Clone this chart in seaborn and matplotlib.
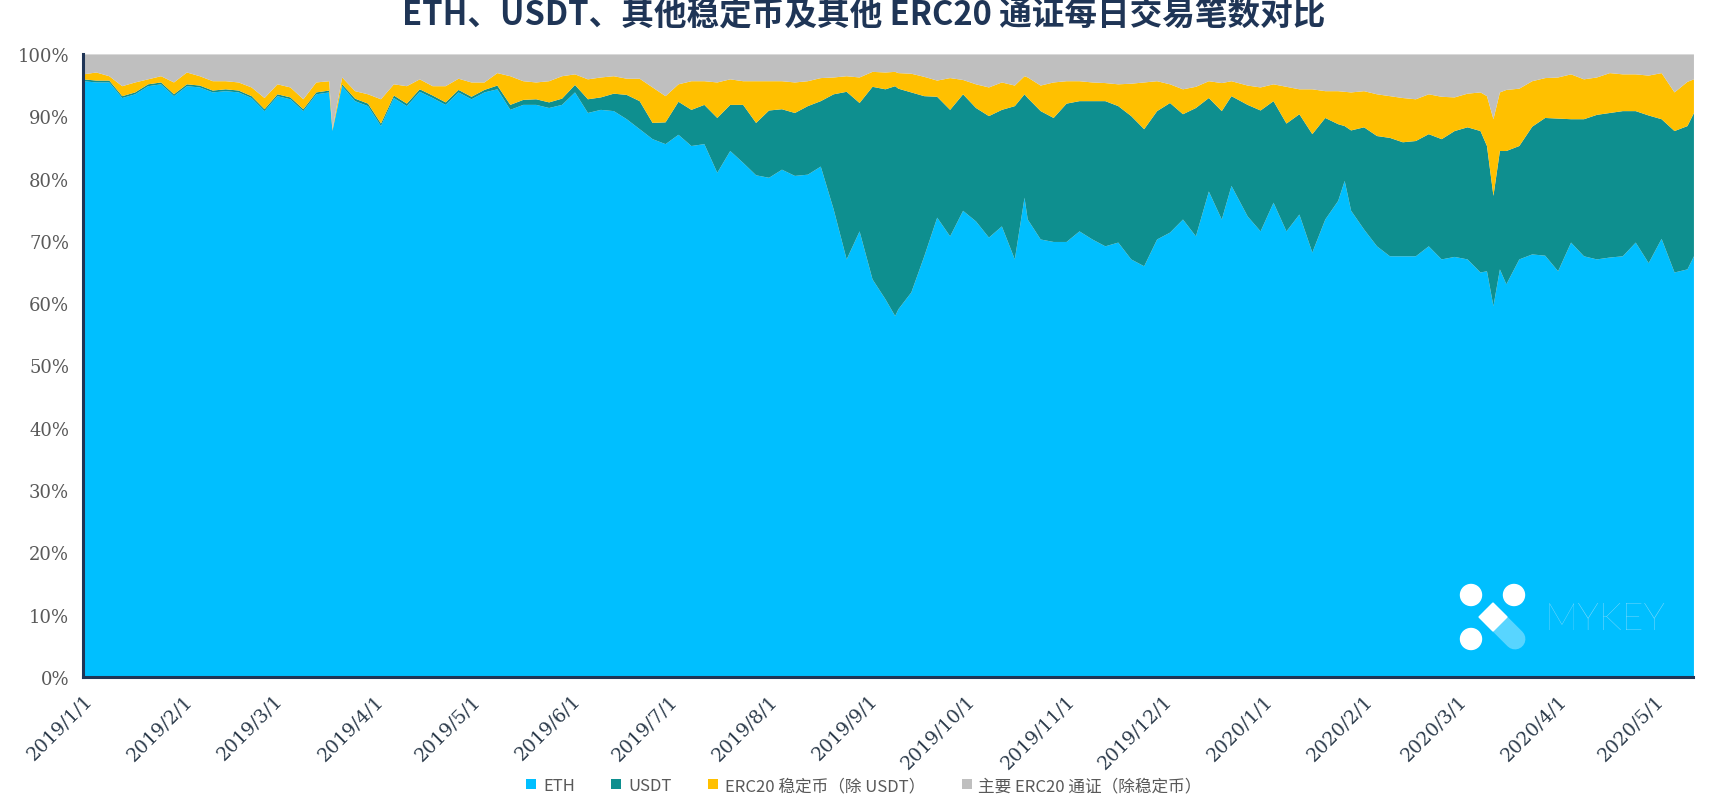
import datetime as dt

import matplotlib.dates as mdates
import matplotlib.pyplot as plt
import matplotlib.ticker as mticker
import numpy as np
import seaborn as sns
from matplotlib.patches import Circle, Patch, Polygon

sns.set_style("white")
plt.rcParams["font.family"] = ["Noto Sans CJK SC", "DejaVu Sans"]

# day offsets from 2019/1/1
days = [0, 4, 8, 12, 16, 20, 24, 28, 32, 36,
        40, 44, 48, 52, 56, 60, 64, 68, 72, 76,
        77, 80, 84, 88, 92, 96, 100, 104, 108, 112,
        116, 120, 124, 128, 132, 136, 140, 144, 148, 152,
        156, 160, 164, 168, 172, 176, 180, 184, 188, 192,
        196, 200, 204, 208, 212, 216, 220, 224, 228, 232,
        236, 240, 244, 248, 251, 252, 256, 260, 264, 268,
        272, 276, 280, 284, 288, 291, 292, 296, 300, 304,
        308, 312, 316, 320, 324, 328, 332, 336, 340, 344,
        348, 352, 355, 360, 364, 368, 372, 376, 380, 384,
        388, 390, 392, 396, 400, 404, 408, 412, 416, 420,
        424, 428, 432, 434, 436, 438, 440, 444, 448, 452,
        456, 460, 464, 468, 472, 476, 480, 484, 488, 492,
        496, 498]

eth = [95.7, 95.5, 95.5, 93.0, 93.6, 94.9, 95.2, 93.3, 94.9, 94.7,
       93.9, 94.1, 93.9, 93.0, 90.9, 93.3, 92.8, 90.9, 93.6, 93.9,
       87.7, 94.9, 92.5, 91.7, 88.5, 93.0, 91.7, 94.0, 93.0, 91.9,
       93.9, 92.8, 93.9, 94.4, 91.1, 91.9, 91.9, 91.4, 91.9, 93.9,
       90.6, 91.1, 90.9, 89.6, 88.0, 86.4, 85.6, 87.1, 85.3, 85.6,
       81.0, 84.5, 82.6, 80.6, 80.2, 81.5, 80.5, 80.7, 82.0, 75.1,
       67.1, 71.6, 63.9, 60.7, 58.0, 59.1, 61.8, 67.6, 73.8, 70.8,
       74.9, 73.2, 70.6, 72.4, 67.1, 77.0, 73.5, 70.3, 69.9, 69.9,
       71.6, 70.3, 69.2, 69.8, 67.1, 66.0, 70.3, 71.4, 73.5, 70.8,
       78.0, 73.5, 78.9, 74.0, 71.6, 76.2, 71.6, 74.3, 68.2, 73.5,
       76.5, 79.7, 74.9, 71.9, 69.2, 67.6, 67.6, 67.6, 69.2, 67.1,
       67.5, 67.1, 65.0, 65.2, 59.6, 65.5, 63.1, 67.1, 67.9, 67.7,
       65.2, 69.8, 67.6, 67.1, 67.4, 67.6, 69.8, 66.5, 70.4, 65.0,
       65.5, 67.6]

usdt = [0.3] * 20 + [
        0.1, 0.3, 0.4, 0.4, 0.4, 0.4, 0.4, 0.4, 0.4, 0.4,
        0.4, 0.4, 0.4, 0.6, 0.8, 0.8, 0.9, 0.9, 1.0, 1.2,
        2.2, 2.0, 2.8, 3.9, 4.5, 2.6, 3.5, 5.3, 5.8, 6.3,
        8.8, 7.4, 9.3, 8.4, 10.8, 9.7, 10.1, 11.0, 10.5, 18.5,
        26.9, 20.6, 30.9, 33.7, 36.9, 35.4, 32.1, 25.7, 19.4, 20.3,
        18.7, 18.2, 19.5, 18.7, 24.6, 16.6, 19.5, 20.6, 19.9, 22.2,
        20.9, 22.2, 23.3, 21.9, 23.0, 22.0, 20.6, 20.8, 16.9, 20.6,
        15.0, 17.4, 14.4, 17.9, 19.4, 16.3, 17.3, 16.1, 19.0, 16.3,
        12.3, 8.8, 12.9, 16.4, 17.7, 19.0, 18.3, 18.5, 18.0, 19.3,
        20.2, 21.2, 22.7, 20.1, 17.7, 19.0, 21.4, 18.2, 20.5, 22.1,
        24.5, 19.8, 22.0, 23.2, 23.2, 23.3, 21.1, 23.7, 19.2, 22.7,
        23.0, 23.0]

stable = [0.8, 1.3, 0.7, 1.6, 1.6, 0.8, 1.0, 1.9, 1.9, 1.5,
          1.5, 1.3, 1.3, 1.4, 1.8, 1.6, 1.6, 1.6, 1.6, 1.5,
          0.2, 1.1, 1.2, 1.5, 3.9, 1.8, 2.8, 1.6, 1.5, 2.6,
          1.8, 2.3, 1.2, 2.0, 4.6, 3.0, 2.7, 3.4, 3.6, 1.7,
          3.2, 3.2, 2.8, 2.6, 3.6, 5.7, 4.2, 2.8, 4.6, 3.8,
          5.7, 4.1, 3.8, 6.7, 4.7, 4.5, 4.9, 4.0, 3.7, 2.7,
          2.5, 4.1, 2.4, 2.7, 2.3, 2.5, 3.0, 3.1, 2.6, 5.1,
          2.3, 3.8, 4.6, 4.4, 3.3, 2.9, 3.3, 4.1, 5.7, 3.6,
          3.2, 3.0, 2.9, 3.5, 5.2, 7.5, 4.8, 3.0, 4.0, 3.4,
          2.7, 4.5, 2.4, 3.1, 3.7, 2.7, 5.9, 4.0, 7.2, 4.3,
          5.3, 5.5, 6.1, 5.8, 6.7, 6.7, 7.1, 6.7, 6.4, 6.8,
          5.4, 5.4, 6.2, 8.0, 12.3, 9.4, 9.8, 9.2, 7.3, 6.4,
          6.6, 7.2, 6.4, 6.0, 6.4, 5.9, 5.9, 6.4, 7.4, 6.2,
          7.1, 5.4]

other = [3.2, 2.9, 3.5, 5.1, 4.5, 4.0, 3.5, 4.5, 2.9, 3.5,
         4.3, 4.3, 4.5, 5.3, 7.0, 4.8, 5.3, 7.2, 4.5, 4.3,
         12.0, 3.7, 5.9, 6.4, 7.2, 4.8, 5.1, 4.0, 5.1, 5.1,
         3.9, 4.5, 4.5, 3.0, 3.5, 4.3, 4.5, 4.3, 3.5, 3.2,
         4.0, 3.7, 3.5, 3.9, 3.9, 5.3, 6.7, 4.8, 4.3, 4.3,
         4.5, 4.0, 4.3, 4.3, 4.3, 4.3, 4.5, 4.3, 3.8, 3.7,
         3.5, 3.7, 2.8, 2.9, 2.8, 3.0, 3.1, 3.6, 4.2, 3.8,
         4.1, 4.8, 5.3, 4.5, 5.0, 3.5, 3.7, 5.0, 4.5, 4.3,
         4.3, 4.5, 4.6, 4.8, 4.7, 4.5, 4.3, 4.8, 5.6, 5.2,
         4.3, 4.6, 4.3, 5.0, 5.3, 4.8, 5.2, 5.6, 5.6, 5.9,
         5.9, 6.0, 6.1, 5.9, 6.4, 6.7, 7.0, 7.2, 6.4, 6.8,
         6.9, 6.3, 6.1, 6.7, 10.4, 6.1, 5.7, 5.5, 4.3, 3.8,
         3.7, 3.2, 4.0, 3.7, 3.0, 3.2, 3.2, 3.4, 3.0, 6.1,
         4.4, 4.0]

labels = ["ETH", "USDT", "ERC20 稳定币（除 USDT）", "主要 ERC20 通证（除稳定币）"]
colors = ["#00BFFF", "#0E8F8F", "#FFC000", "#BFBFBF"]
title = "ETH、USDT、其他稳定币及其他 ERC20 通证每日交易笔数对比"

start = dt.date(2019, 1, 1)
dates = [start + dt.timedelta(days=d) for d in days]
shares = np.array([eth, usdt, stable, other])
shares = shares / shares.sum(axis=0)

navy = "#1F3556"
fig = plt.figure(figsize=(17.28, 8.04), dpi=100)
ax = fig.add_axes([0.048, 0.1567, 0.932, 0.775])
ax.stackplot(dates, shares, colors=colors, linewidth=0)

ax.set_xlim(dates[0], dates[-1])
ax.set_ylim(0, 1)
ax.yaxis.set_major_locator(mticker.MultipleLocator(0.1))
ax.yaxis.set_major_formatter(mticker.FuncFormatter(lambda v, p: f"{v * 100:.0f}%"))
ax.xaxis.set_major_locator(mdates.MonthLocator())
ax.xaxis.set_major_formatter(mticker.FuncFormatter(
    lambda v, p: "{0.year}/{0.month}/{0.day}".format(mdates.num2date(v))))

for s in ["top", "right"]:
    ax.spines[s].set_visible(False)
for s in ["left", "bottom"]:
    ax.spines[s].set_color(navy)
    ax.spines[s].set_linewidth(2.2)
    ax.spines[s].set_zorder(5)

ax.tick_params(axis="y", length=0, pad=10, labelsize=13, labelcolor="#595959")
ax.tick_params(axis="x", length=6, width=2, color=navy, direction="out",
               labelsize=13.5, labelcolor="#2B3A4A", pad=4)
for t in ax.get_yticklabels() + ax.get_xticklabels():
    t.set_fontfamily(["DejaVu Serif"])
for t in ax.get_xticklabels():
    t.set_rotation(45)
    t.set_ha("right")
    t.set_rotation_mode("anchor")

fig.text(0.5, 1 - 24 / 804, title, ha="center", va="baseline",
         fontsize=23.5, fontweight="bold", color=navy)

handles = [Patch(facecolor=c, edgecolor="none") for c in colors]
fig.legend(handles, labels, loc="upper center", bbox_to_anchor=(0.5, 1 - 778 / 804),
           ncol=4, frameon=False, fontsize=12, handlelength=0.6, handleheight=0.6,
           handletextpad=0.4, columnspacing=2.2, labelcolor="#595959",
           borderaxespad=0, borderpad=0)

# MYKEY watermark
lg = fig.add_axes([1455 / 1728, 1 - 655 / 804, 75 / 1728, 75 / 804])
lg.set_xlim(0, 75)
lg.set_ylim(0, 75)
lg.axis("off")
lg.plot([38, 60], [37, 15], color="white", alpha=0.35, linewidth=15,
        solid_capstyle="round")
for cx, cy in [(16, 59), (59, 59), (16, 15)]:
    lg.add_patch(Circle((cx, cy), 10.5, color="white"))
lg.add_patch(Polygon([(38, 51), (52, 37), (38, 23), (24, 37)], closed=True, color="white"))
fig.text(1545 / 1728, 1 - 620 / 804, "MYKEY", ha="left", va="center", fontsize=27,
         color="#8FDDFB", family="Lato", fontweight="light")

fig.savefig("out.png", dpi=100)
